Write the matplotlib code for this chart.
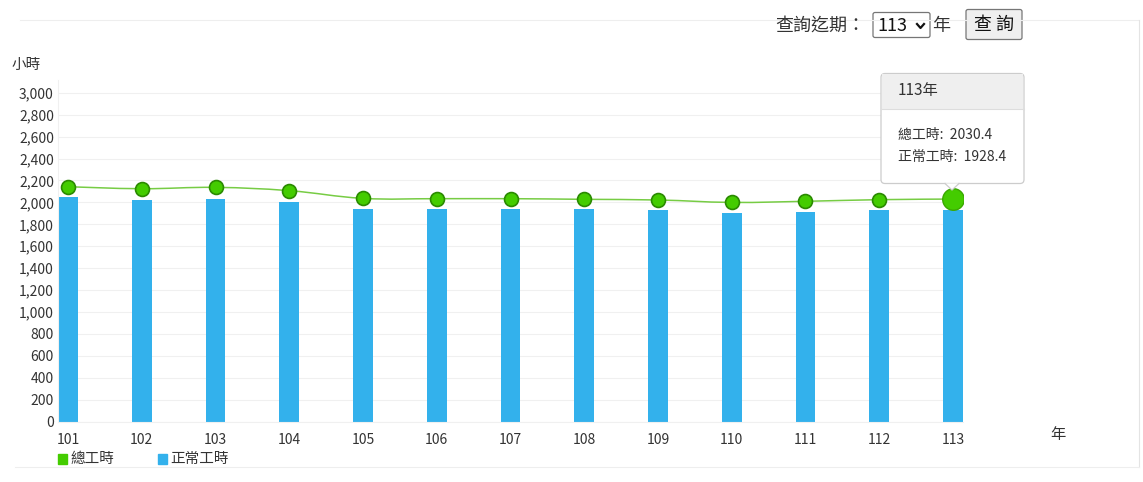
import matplotlib
matplotlib.use("Agg")
import matplotlib.pyplot as plt
import numpy as np
from matplotlib.patches import FancyBboxPatch, Rectangle, Polygon, PathPatch
from matplotlib.path import Path
from matplotlib.ticker import FuncFormatter

plt.rcParams["font.family"] = ["Noto Sans CJK TC", "DejaVu Sans"]

years = ["101", "102", "103", "104", "105", "106", "107",
         "108", "109", "110", "111", "112", "113"]
total_hours = [2143, 2125, 2137, 2107, 2037, 2034, 2034,
               2028, 2022, 2000, 2010, 2025, 2030.4]
normal_hours = [2046, 2025, 2034, 2006, 1937, 1943, 1940,
                1937, 1930, 1906, 1915, 1927, 1928.4]
series_names = ["總工時", "正常工時"]
query_label = "查詢迄期："
query_year = "113"

BAR = "#33b1ec"
GREEN = "#44cc00"
GREEN_EDGE = "#2a8a00"
LINE = "#77cc44"
TXT = "#333333"

W, H = 1143, 482
fig = plt.figure(figsize=(W / 100, H / 100), dpi=100)
ax = fig.add_axes([58 / W, 60.3 / H, 905 / W, 342.1 / H])

x = np.arange(len(years))
ax.bar(x, normal_hours, width=0.27, color=BAR, zorder=2)


def smooth_path(xs, ys, k=0.2):
    # cubic bezier through the points (catmull-rom style tangents)
    verts = [(xs[0], ys[0])]
    codes = [Path.MOVETO]
    n = len(xs)
    for i in range(n - 1):
        p0 = (xs[max(i - 1, 0)], ys[max(i - 1, 0)])
        p1 = (xs[i], ys[i])
        p2 = (xs[i + 1], ys[i + 1])
        p3 = (xs[min(i + 2, n - 1)], ys[min(i + 2, n - 1)])
        c1 = (p1[0] + (p2[0] - p0[0]) * k, p1[1] + (p2[1] - p0[1]) * k)
        c2 = (p2[0] - (p3[0] - p1[0]) * k, p2[1] - (p3[1] - p1[1]) * k)
        verts += [c1, c2, p2]
        codes += [Path.CURVE4] * 3
    return Path(verts, codes)


ax.add_patch(PathPatch(smooth_path(x, total_hours), facecolor="none",
                       edgecolor=LINE, linewidth=1.1, zorder=3))
ax.plot(x[:-1], total_hours[:-1], linestyle="none", marker="o", ms=10,
        mfc=GREEN, mec=GREEN_EDGE, mew=1.2, zorder=4)
ax.plot(x[-1:], total_hours[-1:], linestyle="none", marker="o", ms=15.5,
        mfc=GREEN, mec="#3aa800", mew=1.0, zorder=4)

ax.set_xlim(-0.1357, len(years) - 1 + 0.1357)
ax.set_ylim(0, 3120)
ax.set_yticks(np.arange(0, 3001, 200))
ax.yaxis.set_major_formatter(FuncFormatter(lambda v, p: f"{int(v):,}"))
ax.set_xticks(x)
ax.set_xticklabels(years)
ax.tick_params(length=0, labelsize=10, colors=TXT)
ax.tick_params(axis="x", pad=8)
ax.tick_params(axis="y", pad=3)
ax.grid(axis="y", color="#f0f0f0", linewidth=0.8, zorder=0)
ax.set_axisbelow(True)
for side in ["top", "right"]:
    ax.spines[side].set_visible(False)
for side in ["left", "bottom"]:
    ax.spines[side].set_color("#f0f0f0")

# overlay in pixel coordinates for the page decorations
ov = fig.add_axes([0, 0, 1, 1], zorder=10)
ov.set_xlim(0, W)
ov.set_ylim(H, 0)
ov.axis("off")
ov.patch.set_alpha(0)

# container frame
ov.plot([20, 1139], [20, 20], color="#eeeeee", lw=0.8)
ov.plot([1139, 1139], [20, 467], color="#e4e4e4", lw=0.8)
ov.plot([15, 1139], [467, 467], color="#eeeeee", lw=0.8)

ov.text(12, 65, "小時", fontsize=10.5, color=TXT, va="center", ha="left")
ov.text(1050, 434, "年", fontsize=11, color=TXT, va="center", ha="left")

# legend
ov.add_patch(Rectangle((58, 454), 9, 10, color=GREEN))
ov.text(70, 459, series_names[0], fontsize=10.5, color=TXT, va="center")
ov.add_patch(Rectangle((158, 454), 9, 10, color=BAR))
ov.text(170, 459, series_names[1], fontsize=10.5, color=TXT, va="center")

# query form
ov.text(775, 26, query_label, fontsize=13, color=TXT, va="center", ha="left")
ov.add_patch(FancyBboxPatch((873, 12.5), 57, 25, boxstyle="round,pad=0,rounding_size=2",
                            facecolor="white", edgecolor="#767676", lw=0.9))
ov.text(877, 26, query_year, fontsize=13, color="#111111", va="center", ha="left")
ov.plot([917, 920.5, 924], [24, 28, 24], color="#111111", lw=1.6)
ov.text(932, 26, "年", fontsize=13, color=TXT, va="center", ha="left")
ov.add_patch(FancyBboxPatch((966, 9.5), 56, 30, boxstyle="round,pad=0,rounding_size=2",
                            facecolor="#efefef", edgecolor="#767676", lw=0.9))
ov.text(994, 25, "查 詢", fontsize=13, color="#111111", va="center", ha="center")

# tooltip
ov.add_patch(FancyBboxPatch((881, 73.5), 143, 110, boxstyle="round,pad=0,rounding_size=4",
                            facecolor="white", edgecolor="#cccccc", lw=0.9))
ov.add_patch(Rectangle((881.6, 74.1), 141.8, 35, facecolor="#efefef", edgecolor="none"))
ov.plot([881.5, 1023.5], [109, 109], color="#dddddd", lw=0.8)
ov.add_patch(Polygon([(945, 183.4), (959, 183.4), (952, 190)], closed=True,
                     facecolor="white", edgecolor="none", zorder=5))
ov.plot([945, 952, 959], [183.5, 190, 183.5], color="#cccccc", lw=0.9, zorder=6)
ov.text(898, 91, f"{years[-1]}年", fontsize=11, color=TXT, va="center", ha="left")
ov.text(898, 135, f"{series_names[0]}:  {total_hours[-1]}", fontsize=10,
        color=TXT, va="center", ha="left")
ov.text(898, 157, f"{series_names[1]}:  {normal_hours[-1]}", fontsize=10,
        color=TXT, va="center", ha="left")

fig.savefig("out.png", dpi=100)
